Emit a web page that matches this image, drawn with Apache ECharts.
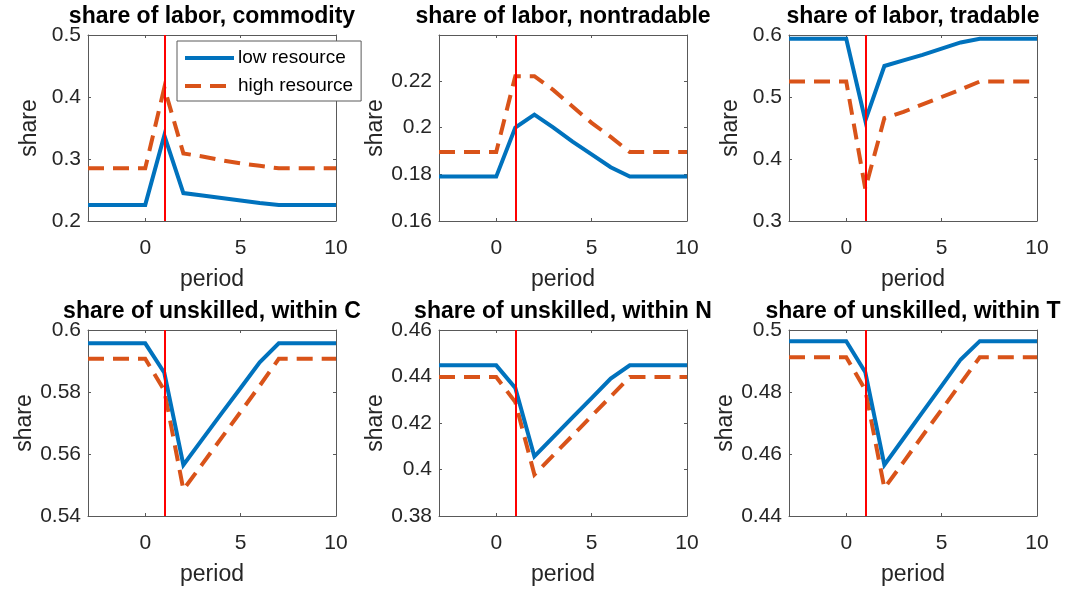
<!DOCTYPE html>
<html>
<head>
<meta charset="utf-8">
<script src="https://cdn.jsdelivr.net/npm/echarts@6/dist/echarts.min.js"></script>
<style>
  html, body { margin: 0; padding: 0; background: #fff; }
  #chart { width: 1066px; height: 596px; }
</style>
</head>
<body>
<div id="chart"></div>
<script>
// periods on the x axis
const periods = [-3, -2, -1, 0, 1, 2, 3, 4, 5, 6, 7, 8, 9, 10];
const xTicks = [0, 5, 10];
const shockPeriod = 1;

const titles = [
  'share of labor, commodity',
  'share of labor, nontradable',
  'share of labor, tradable',
  'share of unskilled, within C',
  'share of unskilled, within N',
  'share of unskilled, within T'
];

// y ranges and tick steps per panel
const yMin = [0.2, 0.16, 0.3, 0.54, 0.38, 0.44];
const yMax = [0.5, 0.2396, 0.6, 0.6, 0.46, 0.5];
const yStep = [0.1, 0.02, 0.1, 0.02, 0.02, 0.02];

// low resource (blue, solid)
const laborCLow = [0.226, 0.226, 0.226, 0.226, 0.338, 0.245, 0.241, 0.237, 0.233, 0.229, 0.226, 0.226, 0.226, 0.226];
const laborNLow = [0.179, 0.179, 0.179, 0.179, 0.200, 0.2055, 0.200, 0.194, 0.1885, 0.183, 0.179, 0.179, 0.179, 0.179];
const laborTLow = [0.594, 0.594, 0.594, 0.594, 0.462, 0.550, 0.559, 0.568, 0.578, 0.588, 0.594, 0.594, 0.594, 0.594];
const unskCLow = [0.5957, 0.5957, 0.5957, 0.5957, 0.5862, 0.5565, 0.5648, 0.5731, 0.5813, 0.5896, 0.5957, 0.5957, 0.5957, 0.5957];
const unskNLow = [0.4448, 0.4448, 0.4448, 0.4448, 0.4351, 0.4056, 0.414, 0.4224, 0.4307, 0.4391, 0.4448, 0.4448, 0.4448, 0.4448];
const unskTLow = [0.4964, 0.4964, 0.4964, 0.4964, 0.4864, 0.4565, 0.465, 0.4735, 0.482, 0.4905, 0.4964, 0.4964, 0.4964, 0.4964];

// high resource (orange, dashed)
const laborCHigh = [0.285, 0.285, 0.285, 0.285, 0.415, 0.309, 0.304, 0.298, 0.293, 0.289, 0.285, 0.285, 0.285, 0.285];
const laborNHigh = [0.1895, 0.1895, 0.1895, 0.1895, 0.222, 0.222, 0.216, 0.209, 0.202, 0.196, 0.1895, 0.1895, 0.1895, 0.1895];
const laborTHigh = [0.525, 0.525, 0.525, 0.525, 0.352, 0.466, 0.476, 0.488, 0.500, 0.512, 0.525, 0.525, 0.525, 0.525];
const unskCHigh = [0.5907, 0.5907, 0.5907, 0.5907, 0.5805, 0.5485, 0.5568, 0.5652, 0.5736, 0.582, 0.5907, 0.5907, 0.5907, 0.5907];
const unskNHigh = [0.4398, 0.4398, 0.4398, 0.4398, 0.429, 0.3978, 0.4062, 0.4146, 0.423, 0.4314, 0.4398, 0.4398, 0.4398, 0.4398];
const unskTHigh = [0.4912, 0.4912, 0.4912, 0.4912, 0.4807, 0.449, 0.4574, 0.4659, 0.4743, 0.4828, 0.4912, 0.4912, 0.4912, 0.4912];

const lowSeries = [laborCLow, laborNLow, laborTLow, unskCLow, unskNLow, unskTLow];
const highSeries = [laborCHigh, laborNHigh, laborTHigh, unskCHigh, unskNHigh, unskTHigh];

const FONT = "'Liberation Sans', Arial, Helvetica, sans-serif";
const AXIS_COLOR = '#595959';
const TEXT_COLOR = '#262626';
const BLUE = '#0072BD';
const ORANGE = '#D95319';
const LINE_W = 4;

const colLeft = [88, 439, 789];
const rowTop = [35, 330];
const plotW = 248;
const plotH = 186;

const grids = [], xAxes = [], yAxes = [], series = [], titleList = [];

function pairs(ys) {
  return periods.map((p, i) => [p, ys[i]]);
}

titles.forEach((t, i) => {
  const left = colLeft[i % 3];
  const top = rowTop[Math.floor(i / 3)];
  grids.push({left: left, top: top, width: plotW, height: plotH, containLabel: false});

  titleList.push({
    text: t,
    left: left + plotW / 2,
    top: top - 30,
    textAlign: 'center',
    padding: 0,
    textStyle: {fontFamily: FONT, fontSize: 23, fontWeight: 'bold', color: '#000'}
  });

  const lineStyle = {color: AXIS_COLOR, width: 1};
  // bottom x axis with labels
  xAxes.push({
    type: 'value', gridIndex: i, position: 'bottom',
    min: -3, max: 10,
    name: 'period', nameLocation: 'middle', nameGap: 47,
    nameTextStyle: {fontFamily: FONT, fontSize: 23, color: TEXT_COLOR},
    axisLine: {show: true, onZero: false, lineStyle: lineStyle},
    axisTick: {show: true, inside: true, length: 3, lineStyle: lineStyle, customValues: xTicks},
    axisLabel: {
      fontFamily: FONT, fontSize: 21, color: TEXT_COLOR, margin: 17,
      customValues: xTicks
    },
    splitLine: {show: false}
  });
  // top x axis (box)
  xAxes.push({
    type: 'value', gridIndex: i, position: 'top',
    min: -3, max: 10,
    axisLine: {show: true, onZero: false, lineStyle: lineStyle},
    axisTick: {show: true, inside: true, length: 3, lineStyle: lineStyle, customValues: xTicks},
    axisLabel: {show: false, customValues: xTicks},
    splitLine: {show: false}
  });
  const hideTop = Math.abs(yMax[i] / yStep[i] - Math.round(yMax[i] / yStep[i])) > 1e-6;
  yAxes.push({
    type: 'value', gridIndex: i, position: 'left',
    min: yMin[i], max: yMax[i], interval: yStep[i],
    name: 'share', nameLocation: 'middle', nameGap: 47,
    nameTextStyle: {fontFamily: FONT, fontSize: 23, color: TEXT_COLOR},
    axisLine: {show: true, onZero: false, lineStyle: lineStyle},
    axisTick: {show: true, inside: true, length: 3, lineStyle: lineStyle},
    axisLabel: {
      fontFamily: FONT, fontSize: 21, color: TEXT_COLOR, margin: 7,
      showMaxLabel: !hideTop
    },
    splitLine: {show: false}
  });
  yAxes.push({
    type: 'value', gridIndex: i, position: 'right',
    min: yMin[i], max: yMax[i], interval: yStep[i],
    axisLine: {show: true, onZero: false, lineStyle: lineStyle},
    axisTick: {show: true, inside: true, length: 3, lineStyle: lineStyle},
    axisLabel: {show: false},
    splitLine: {show: false}
  });

  series.push({
    name: 'low resource', type: 'line',
    xAxisIndex: 2 * i, yAxisIndex: 2 * i,
    data: pairs(lowSeries[i]),
    showSymbol: false, symbol: 'none',
    lineStyle: {color: BLUE, width: LINE_W, join: 'miter'},
    itemStyle: {color: BLUE},
    animation: false, z: 3
  });
  series.push({
    name: 'high resource', type: 'line',
    xAxisIndex: 2 * i, yAxisIndex: 2 * i,
    data: pairs(highSeries[i]),
    showSymbol: false, symbol: 'none',
    lineStyle: {color: ORANGE, width: LINE_W, type: [16, 9], join: 'miter'},
    itemStyle: {color: ORANGE},
    animation: false, z: 2,
    markLine: {
      silent: true, symbol: 'none', animation: false,
      label: {show: false},
      lineStyle: {color: '#FF0000', width: 2, type: 'solid'},
      data: [{xAxis: shockPeriod}]
    }
  });
});

const chart = echarts.init(document.getElementById('chart'), null, {renderer: 'canvas'});
chart.setOption({
  backgroundColor: '#fff',
  animation: false,
  title: titleList,
  grid: grids,
  xAxis: xAxes,
  yAxis: yAxes,
  legend: {
    data: ['low resource', 'high resource'],
    orient: 'vertical',
    left: 177, top: 41,
    backgroundColor: '#fff',
    borderColor: '#5a5a5a', borderWidth: 1, borderRadius: 0,
    padding: [7, 8, 5, 6],
    itemWidth: 49, itemHeight: 14, itemGap: 8,
    itemStyle: {opacity: 0},
    lineStyle: {width: LINE_W},
    textStyle: {fontFamily: FONT, fontSize: 19, color: '#000', lineHeight: 20, padding: [0, 0, 0, -1]},
    selectedMode: false,
    z: 10
  },
  series: series
});
</script>
</body>
</html>
